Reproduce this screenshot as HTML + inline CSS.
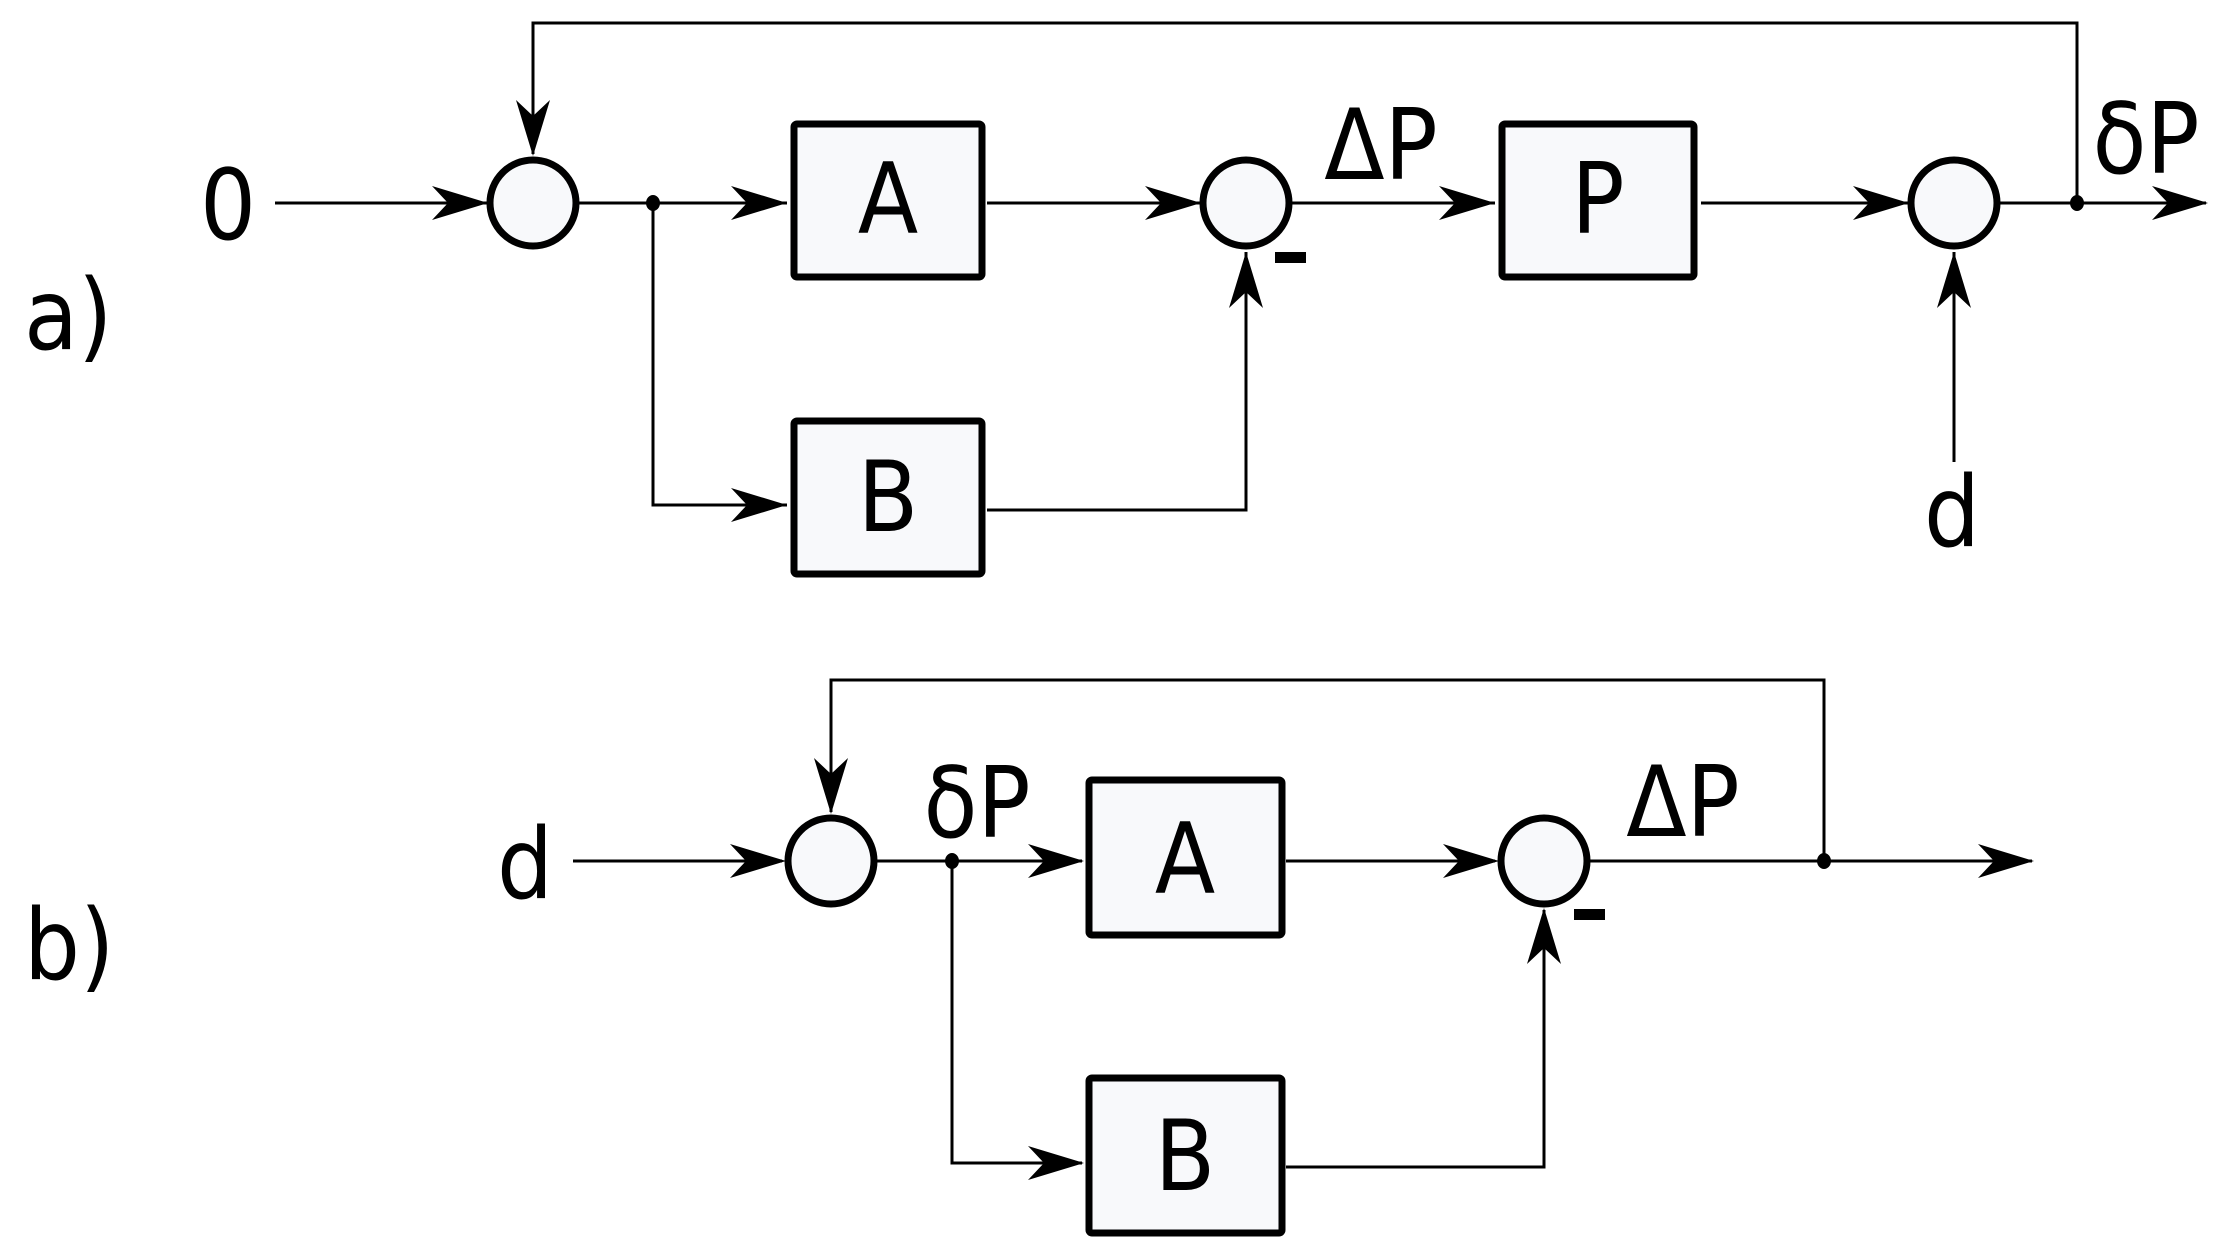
<!DOCTYPE html>
<html><head><meta charset="utf-8"><style>
html,body{margin:0;padding:0;background:#fff}
svg{display:block}
text{font-family:"DejaVu Sans Condensed","DejaVu Sans","Liberation Sans",sans-serif;fill:#000}
</style></head><body>
<svg width="2230" height="1259" viewBox="0 0 2230 1259" xmlns="http://www.w3.org/2000/svg">
<defs>
<path id="ar" d="M0,0 L-56,-17 L-40,0 L-56,17 Z" fill="#000"/>
</defs>
<g stroke="#000" stroke-width="3" fill="none">
<!-- a) lines -->
<line x1="275" y1="203" x2="488" y2="203"/>
<line x1="578" y1="203" x2="787" y2="203"/>
<polyline points="653,203 653,505 787,505"/>
<line x1="987" y1="203" x2="1201" y2="203"/>
<polyline points="987,510 1246,510 1246,252"/>
<line x1="1291" y1="203" x2="1495" y2="203"/>
<line x1="1701" y1="203" x2="1909" y2="203"/>
<line x1="1999" y1="203" x2="2206" y2="203"/>
<polyline points="2077,203 2077,23 533,23 533,154"/>
<line x1="1954" y1="462" x2="1954" y2="252"/>
<!-- b) lines -->
<line x1="573" y1="861" x2="782" y2="861"/>
<line x1="876" y1="861" x2="1082" y2="861"/>
<polyline points="952,861 952,1163 1082,1163"/>
<line x1="1286" y1="861" x2="1495" y2="861"/>
<polyline points="1286,1167 1544,1167 1544,910"/>
<line x1="1589" y1="861" x2="2032" y2="861"/>
<polyline points="1824,861 1824,680 831,680 831,812"/>
</g>
<!-- arrowheads -->
<use href="#ar" transform="translate(488,203)"/>
<use href="#ar" transform="translate(787,203)"/>
<use href="#ar" transform="translate(787,505)"/>
<use href="#ar" transform="translate(1201,203)"/>
<use href="#ar" transform="translate(1246,252) rotate(-90)"/>
<use href="#ar" transform="translate(1495,203)"/>
<use href="#ar" transform="translate(1909,203)"/>
<use href="#ar" transform="translate(2208,203)"/>
<use href="#ar" transform="translate(533,156) rotate(90)"/>
<use href="#ar" transform="translate(1954,252) rotate(-90)"/>
<use href="#ar" transform="translate(786,861)"/>
<use href="#ar" transform="translate(1084,861)"/>
<use href="#ar" transform="translate(1084,1163)"/>
<use href="#ar" transform="translate(1499,861)"/>
<use href="#ar" transform="translate(1544,908) rotate(-90)"/>
<use href="#ar" transform="translate(2034,861)"/>
<use href="#ar" transform="translate(831,814) rotate(90)"/>
<!-- circles -->
<g stroke="#000" stroke-width="7" fill="#f8f9fb">
<circle cx="533" cy="203" r="43"/>
<circle cx="1246" cy="203" r="43"/>
<circle cx="1954" cy="203" r="43"/>
<circle cx="831" cy="861" r="43"/>
<circle cx="1544" cy="861" r="43"/>
</g>
<!-- boxes -->
<g stroke="#000" stroke-width="7" fill="#f8f9fb">
<rect x="794" y="124" width="188" height="153" rx="3"/>
<rect x="794" y="421" width="188" height="153" rx="3"/>
<rect x="1502" y="124" width="192" height="153" rx="3"/>
<rect x="1089" y="780" width="193" height="155" rx="3"/>
<rect x="1089" y="1078" width="193" height="155" rx="3"/>
</g>
<!-- dots -->
<g fill="#000">
<ellipse cx="653" cy="203" rx="7" ry="8"/>
<ellipse cx="2077" cy="203" rx="7" ry="8"/>
<ellipse cx="952" cy="861" rx="7" ry="8"/>
<ellipse cx="1824" cy="861" rx="7" ry="8"/>
<rect x="1275" y="252" width="31" height="11"/>
<rect x="1574" y="909" width="31" height="11"/>
</g>
<!-- text -->
<g font-size="98">
<text x="888" y="233" text-anchor="middle">A</text>
<text x="888" y="531" text-anchor="middle">B</text>
<text x="1598" y="233" text-anchor="middle">P</text>
<text x="1185" y="893" text-anchor="middle">A</text>
<text x="1185" y="1190" text-anchor="middle">B</text>
<text x="228" y="239" text-anchor="middle">0</text>
<text x="1381" y="179" text-anchor="middle">ΔP</text>
<text x="2146" y="173" text-anchor="middle">δP</text>
<text x="1952" y="546" text-anchor="middle">d</text>
<text x="525" y="898" text-anchor="middle">d</text>
<text x="977" y="837" text-anchor="middle">δP</text>
<text x="1683" y="836" text-anchor="middle">ΔP</text>
<text x="24" y="349">a)</text>
<text x="24" y="979">b)</text>
</g>
</svg>
</body></html>
